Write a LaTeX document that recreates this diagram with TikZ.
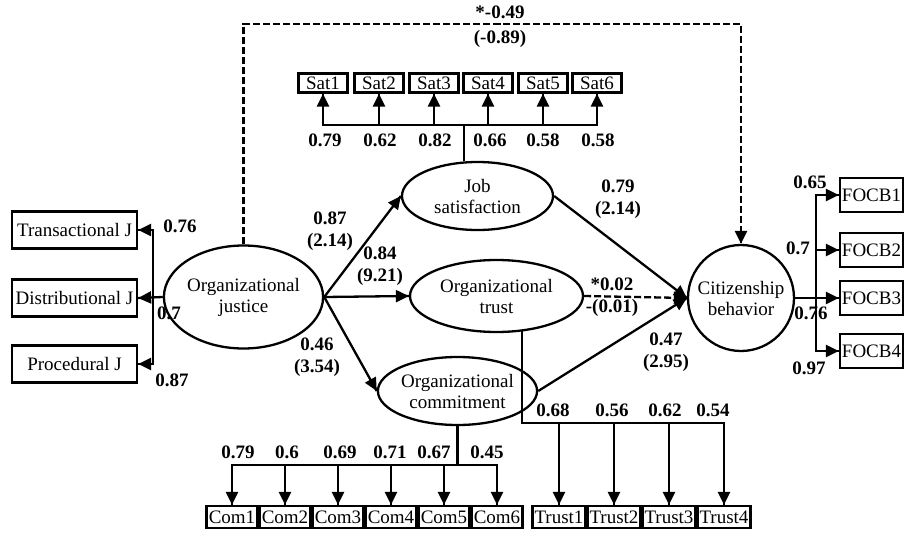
\documentclass[tikz,border=0pt]{standalone}
\usepackage{fontspec}
\setmainfont{Liberation Serif}
\usetikzlibrary{arrows.meta}
\usetikzlibrary{decorations.markings}
\usetikzlibrary{shapes.geometric}
\newcommand{\semfont}{\fontsize{19}{21}\selectfont}
\tikzset{->/.style = {decoration={markings,
                                  mark=at position 1 with {\arrow{Triangle[length=13pt, width=12pt]}}},
                      postaction={decorate}}}
\tikzset{latent/.style = {draw, ellipse, inner sep=0pt, align=center},
         item/.style = {draw, rectangle, inner sep=0pt},
         coef/.style = {font=\fontsize{19}{22}\selectfont\bfseries, align=center},
         dashlink/.style = {dash pattern=on 7pt off 3pt}}

\begin{document}
\begin{tikzpicture}[x=1pt, y=-1pt, line width=2.3pt, font=\semfont]
      \useasboundingbox (0, 0) rectangle (906, 533);
      % latent variables
      \node [latent, minimum width=121pt, minimum height=103pt] (oj) at (243.5, 297) {Organizational\\justice};
      \node [latent, minimum width=151pt, minimum height=68pt] (js) at (477.5, 196) {Job\\satisfaction};
      \node [latent, minimum width=173pt, minimum height=72pt] (ot) at (496.5, 296) {Organizational\\trust};
      \node [latent, minimum width=151pt, minimum height=68pt] (oc) at (457.5, 391) {Organizational\\commitment};
      \node [draw, circle, inner sep=0pt, minimum size=106pt, align=center] (cb) at (741, 298) {Citizenship\\behavior};
      % justice indicators
      \node [item, minimum width=125pt, minimum height=37pt] (tj) at (74.5, 230) {Transactional J};
      \node [item, minimum width=125pt, minimum height=37pt] (dj) at (74.5, 298) {Distributional J};
      \node [item, minimum width=125pt, minimum height=37pt] (pj) at (74.5, 364) {Procedural J};
      % satisfaction indicators
      \node [item, minimum width=49pt, minimum height=19pt] (s1) at (323, 83) {Sat1};
      \node [item, minimum width=49pt, minimum height=19pt] (s2) at (379, 83) {Sat2};
      \node [item, minimum width=49pt, minimum height=19pt] (s3) at (434, 83) {Sat3};
      \node [item, minimum width=49pt, minimum height=19pt] (s4) at (488, 83) {Sat4};
      \node [item, minimum width=49pt, minimum height=19pt] (s5) at (543, 83) {Sat5};
      \node [item, minimum width=49pt, minimum height=19pt] (s6) at (597, 83) {Sat6};
      % commitment indicators
      \node [item, minimum width=51pt, minimum height=22pt] (c1) at (232, 517) {Com1};
      \node [item, minimum width=51pt, minimum height=22pt] (c2) at (285, 517) {Com2};
      \node [item, minimum width=51pt, minimum height=22pt] (c3) at (338, 517) {Com3};
      \node [item, minimum width=51pt, minimum height=22pt] (c4) at (391, 517) {Com4};
      \node [item, minimum width=51pt, minimum height=22pt] (c5) at (444, 517) {Com5};
      \node [item, minimum width=51pt, minimum height=22pt] (c6) at (497, 517) {Com6};
      % trust indicators
      \node [item, minimum width=53pt, minimum height=22pt] (t1) at (559, 517) {Trust1};
      \node [item, minimum width=53pt, minimum height=22pt] (t2) at (614, 517) {Trust2};
      \node [item, minimum width=53pt, minimum height=22pt] (t3) at (669, 517) {Trust3};
      \node [item, minimum width=53pt, minimum height=22pt] (t4) at (724, 517) {Trust4};
      % behavior indicators
      \node [item, minimum width=63pt, minimum height=34pt] (f1) at (871.5, 195) {FOCB1};
      \node [item, minimum width=63pt, minimum height=34pt] (f2) at (871.5, 250) {FOCB2};
      \node [item, minimum width=63pt, minimum height=34pt] (f3) at (871.5, 298) {FOCB3};
      \node [item, minimum width=63pt, minimum height=34pt] (f4) at (871.5, 351) {FOCB4};

      % bus points
      \coordinate (jbus) at (153, 297);
      \coordinate (sbus) at (464, 125);
      \coordinate (cbus) at (457.5, 465);
      \coordinate (tbus) at (522, 423);
      \coordinate (fbus) at (816, 298);
      \coordinate (dtop) at (500, 24);

      % structural paths
      \draw [->] (oj.east) -- (js.west);
      \draw [->] (oj.east) -- (ot.west);
      \draw [->] (oj.east) -- (oc.west);
      \draw [->] (js.east) -- (cb.west);
      \draw [->, dashlink] (ot.east) -- (cb.west);
      \draw [->] (oc.east) -- (cb.west);
      \draw [->, dashlink] (oj.north) |- (dtop) -| (cb.north);

      % measurement paths
      \draw [->] (oj.west) -- (dj.east);
      \draw [->] (jbus |- pj.east) -- (jbus |- tj.east) -- (tj.east);
      \draw [->] (jbus |- tj.east) -- (jbus |- pj.east) -- (pj.east);

      \draw (js.north -| sbus) -- (sbus);
      \draw [->] (s6.south |- sbus) -- (s1.south |- sbus) -- (s1.south);
      \draw [->] (s1.south |- sbus) -- (s6.south |- sbus) -- (s6.south);
      \draw [->] (s2.south |- sbus) -- (s2.south);
      \draw [->] (s3.south |- sbus) -- (s3.south);
      \draw [->] (s4.south |- sbus) -- (s4.south);
      \draw [->] (s5.south |- sbus) -- (s5.south);

      \draw (oc.south) -- (cbus);
      \draw [->] (c6.north |- cbus) -- (c1.north |- cbus) -- (c1.north);
      \draw [->] (c1.north |- cbus) -- (c6.north |- cbus) -- (c6.north);
      \draw [->] (c2.north |- cbus) -- (c2.north);
      \draw [->] (c3.north |- cbus) -- (c3.north);
      \draw [->] (c4.north |- cbus) -- (c4.north);
      \draw [->] (c5.north |- cbus) -- (c5.north);

      \draw [->] (tbus |- ot.-53) -- (tbus) -- (t4.north |- tbus) -- (t4.north);
      \draw [->] (t1.north |- tbus) -- (t1.north);
      \draw [->] (t2.north |- tbus) -- (t2.north);
      \draw [->] (t3.north |- tbus) -- (t3.north);

      \draw [->] (cb.east) -- (f3.west);
      \draw [->] (fbus |- f4.west) -- (fbus |- f1.west) -- (f1.west);
      \draw [->] (fbus |- f1.west) -- (fbus |- f4.west) -- (f4.west);
      \draw [->] (fbus |- f2.west) -- (f2.west);

      % coefficients
      \node [coef] (k-dir) at (500, 26.5) {*-0.49\\[3pt](-0.89)};
      \node [coef] (k-js) at (330, 231) {0.87\\(2.14)};
      \node [coef] (k-ot) at (380, 266) {0.84\\(9.21)};
      \node [coef] (k-oc) at (317, 357.5) {0.46\\(3.54)};
      \node [coef] (k-jscb) at (618, 199) {0.79\\(2.14)};
      \node [coef] (k-otcb) at (612, 297) {*0.02\\-(0.01)};
      \node [coef] (k-occb) at (666, 352.5) {0.47\\(2.95)};

      \node [coef] (k-tj) at (180, 226) {0.76};
      \node [coef] (k-dj) at (169, 313) {0.7};
      \node [coef] (k-pj) at (172, 380) {0.87};

      \node [coef] (k-s1) at (325, 140) {0.79};
      \node [coef] (k-s2) at (380, 140) {0.62};
      \node [coef] (k-s3) at (435, 140) {0.82};
      \node [coef] (k-s4) at (490, 140) {0.66};
      \node [coef] (k-s5) at (543, 140) {0.58};
      \node [coef] (k-s6) at (598, 140) {0.58};

      \node [coef] (k-c1) at (238, 452) {0.79};
      \node [coef] (k-c2) at (287, 452) {0.6};
      \node [coef] (k-c3) at (340, 452) {0.69};
      \node [coef] (k-c4) at (390, 452) {0.71};
      \node [coef] (k-c5) at (434, 452) {0.67};
      \node [coef] (k-c6) at (487, 452) {0.45};

      \node [coef] (k-t1) at (553, 410) {0.68};
      \node [coef] (k-t2) at (612, 410) {0.56};
      \node [coef] (k-t3) at (665, 410) {0.62};
      \node [coef] (k-t4) at (713, 410) {0.54};

      \node [coef] (k-f1) at (810, 182) {0.65};
      \node [coef] (k-f2) at (798, 248) {0.7};
      \node [coef] (k-f3) at (811, 313) {0.76};
      \node [coef] (k-f4) at (809, 368) {0.97};
    \end{tikzpicture}
\end{document}
